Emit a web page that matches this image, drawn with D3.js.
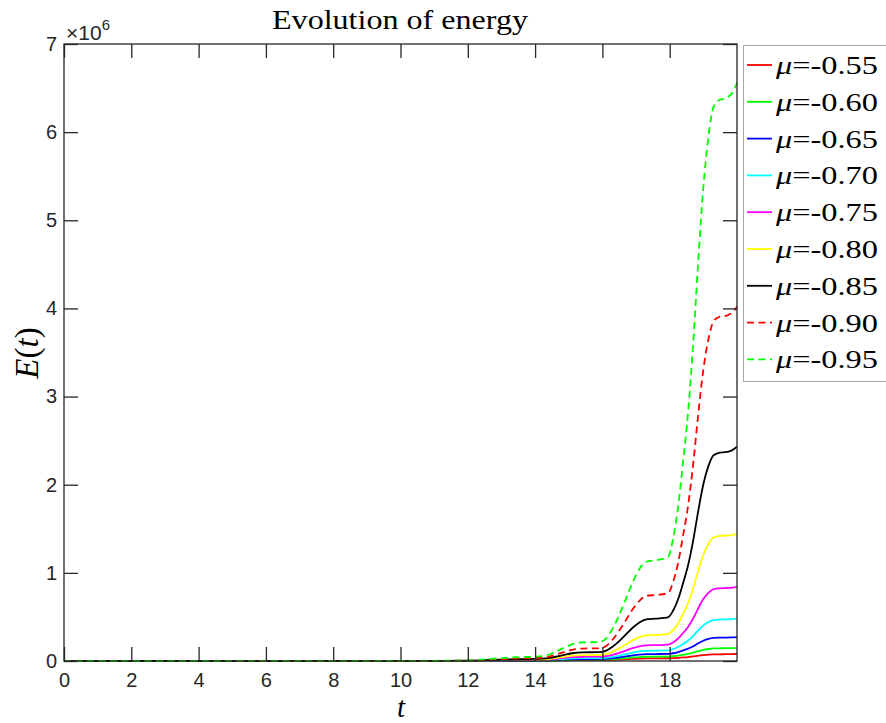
<!DOCTYPE html>
<html><head><meta charset="utf-8">
<script src="https://cdn.jsdelivr.net/npm/d3@7"></script>
<style>html,body{margin:0;padding:0;background:#fff;}svg{display:block;}</style>
</head><body>
<svg id="chart" width="886" height="723"></svg>
<script>
// ---- data (E in units of 1e6) ----
const tVals = [0, 10, 12, 12.5, 13, 13.5, 14, 14.4, 14.8, 15.1, 15.4, 15.9, 16.1, 16.3, 16.5, 16.7, 16.9, 17.1, 17.3, 17.6, 17.95, 18.1, 18.25, 18.4, 18.55, 18.7, 18.85, 19.0, 19.15, 19.3, 19.45, 19.7, 19.85, 20];
const mu055 = [0, 0, 0.0003, 0.0009, 0.0015, 0.002, 0.0023, 0.0033, 0.0065, 0.0088, 0.0098, 0.01, 0.011, 0.013, 0.017, 0.021, 0.025, 0.028, 0.030, 0.030, 0.031, 0.033, 0.036, 0.040, 0.045, 0.052, 0.060, 0.067, 0.072, 0.075, 0.076, 0.077, 0.078, 0.08];
const mu060 = [0, 0, 0.0005, 0.0014, 0.0024, 0.0032, 0.0037, 0.0053, 0.010, 0.014, 0.0157, 0.016, 0.017, 0.021, 0.027, 0.033, 0.040, 0.045, 0.048, 0.049, 0.05, 0.054, 0.060, 0.070, 0.080, 0.094, 0.111, 0.126, 0.136, 0.143, 0.144, 0.145, 0.146, 0.15];
const mu065 = [0, 0, 0.0007, 0.002, 0.0035, 0.0046, 0.0053, 0.0076, 0.015, 0.020, 0.0225, 0.023, 0.025, 0.032, 0.041, 0.053, 0.064, 0.073, 0.078, 0.079, 0.081, 0.088, 0.101, 0.12, 0.14, 0.167, 0.201, 0.23, 0.25, 0.262, 0.265, 0.266, 0.268, 0.272];
const mu070 = [0, 0.0001, 0.001, 0.003, 0.005, 0.007, 0.008, 0.011, 0.022, 0.030, 0.033, 0.034, 0.037, 0.047, 0.061, 0.078, 0.095, 0.108, 0.115, 0.117, 0.12, 0.134, 0.159, 0.194, 0.232, 0.285, 0.348, 0.404, 0.442, 0.465, 0.47, 0.472, 0.474, 0.48];
const mu075 = [0, 0.0001, 0.0015, 0.004, 0.007, 0.010, 0.011, 0.016, 0.032, 0.043, 0.048, 0.049, 0.054, 0.070, 0.092, 0.118, 0.145, 0.166, 0.177, 0.18, 0.185, 0.211, 0.255, 0.319, 0.389, 0.485, 0.600, 0.703, 0.773, 0.814, 0.824, 0.828, 0.83, 0.84];
const mu080 = [0, 0.0002, 0.002, 0.006, 0.010, 0.014, 0.016, 0.022, 0.044, 0.060, 0.067, 0.068, 0.077, 0.104, 0.143, 0.188, 0.234, 0.270, 0.290, 0.295, 0.304, 0.349, 0.426, 0.538, 0.660, 0.827, 1.027, 1.206, 1.328, 1.400, 1.417, 1.424, 1.429, 1.436];
const mu085 = [0, 0.0003, 0.003, 0.009, 0.015, 0.02, 0.023, 0.033, 0.065, 0.088, 0.098, 0.10, 0.115, 0.161, 0.225, 0.301, 0.377, 0.438, 0.472, 0.48, 0.495, 0.570, 0.700, 0.887, 1.092, 1.372, 1.707, 2.006, 2.211, 2.332, 2.36, 2.372, 2.39, 2.43];
const mu090 = [0, 0.0005, 0.004, 0.013, 0.022, 0.029, 0.033, 0.048, 0.094, 0.127, 0.141, 0.144, 0.168, 0.241, 0.344, 0.465, 0.586, 0.683, 0.738, 0.75, 0.77, 0.895, 1.114, 1.427, 1.772, 2.241, 2.805, 3.305, 3.650, 3.853, 3.90, 3.92, 3.95, 4.02];
const mu095 = [0, 0.001, 0.006, 0.019, 0.032, 0.043, 0.049, 0.071, 0.140, 0.189, 0.211, 0.215, 0.252, 0.364, 0.522, 0.708, 0.894, 1.043, 1.126, 1.145, 1.180, 1.387, 1.750, 2.268, 2.838, 3.615, 4.547, 5.376, 5.946, 6.282, 6.36, 6.39, 6.44, 6.56];
const seriesLabels = ["-0.55", "-0.60", "-0.65", "-0.70", "-0.75", "-0.80", "-0.85", "-0.90", "-0.95"];
const seriesValues = [mu055, mu060, mu065, mu070, mu075, mu080, mu085, mu090, mu095];
const seriesColors = ["#ff0000", "#00ff00", "#0000ff", "#00ffff", "#ff00ff", "#ffff00", "#000000", "#ff0000", "#00ff00"];
const seriesDashed = [false, false, false, false, false, false, false, true, true];
const xTicks = [0, 2, 4, 6, 8, 10, 12, 14, 16, 18];
const yTicks = [0, 1, 2, 3, 4, 5, 6, 7];

// ---- layout ----
const L = 64, R = 737, T = 44, B = 661;
const axisColor = "#262626";
const svg = d3.select("#chart");
svg.append("rect").attr("width", 886).attr("height", 723).attr("fill", "#fff");

const x = d3.scaleLinear().domain([0, 20]).range([L, R]);
const y = d3.scaleLinear().domain([0, 7]).range([B, T]);

// lines
const line = d3.line().x(d => x(d[0])).y(d => y(d[1])).curve(d3.curveMonotoneX);
const gLines = svg.append("g");
seriesValues.forEach((vals, i) => {
  gLines.append("path")
    .datum(tVals.map((t, k) => [t, vals[k]]))
    .attr("d", line)
    .attr("fill", "none")
    .attr("stroke", seriesColors[i])
    .attr("stroke-width", 1.8)
    .attr("stroke-dasharray", seriesDashed[i] ? "7,4.5" : null);
});

// axes (ticks inward, on all four sides)
const tk = 14;
const fontTick = "Liberation Sans, Arial, Helvetica, sans-serif";
const gx = svg.append("g").attr("transform", `translate(0,${B})`)
  .call(d3.axisBottom(x).tickValues(xTicks).tickSizeInner(-tk).tickSizeOuter(0).tickPadding(12).tickFormat(d3.format("d")));
const gxt = svg.append("g").attr("transform", `translate(0,${T})`)
  .call(d3.axisTop(x).tickValues(xTicks).tickSizeInner(-tk).tickSizeOuter(0).tickFormat(""));
const gy = svg.append("g").attr("transform", `translate(${L},0)`)
  .call(d3.axisLeft(y).tickValues(yTicks).tickSizeInner(-tk).tickSizeOuter(0).tickPadding(7).tickFormat(d3.format("d")));
const gyr = svg.append("g").attr("transform", `translate(${R},0)`)
  .call(d3.axisRight(y).tickValues(yTicks).tickSizeInner(-tk).tickSizeOuter(0).tickFormat(""));
[gx, gxt, gy, gyr].forEach(g => {
  g.select(".domain").remove();
  g.selectAll("line").attr("stroke", axisColor).attr("stroke-width", 1.3);
  g.selectAll("text").attr("fill", axisColor).style("font-family", fontTick).style("font-size", "20px");
});
svg.append("rect").attr("x", L).attr("y", T).attr("width", R - L).attr("height", B - T)
  .attr("fill", "none").attr("stroke", axisColor).attr("stroke-width", 1.3);

// exponent label
const ex = svg.append("text").attr("x", 66).attr("y", 40).attr("fill", axisColor)
  .style("font-family", fontTick).style("font-size", "21px");
ex.append("tspan").text("×10");
ex.append("tspan").attr("dy", -10).style("font-size", "15px").text("6");

// title
const serif = "Liberation Serif, 'DejaVu Serif', Times, serif";
svg.append("text").attr("x", 400).attr("y", 29).attr("text-anchor", "middle")
  .attr("textLength", 256).attr("lengthAdjust", "spacingAndGlyphs")
  .style("font-family", serif).style("font-size", "28px").attr("fill", "#000")
  .text("Evolution of energy");

// axis labels
svg.append("text").attr("x", 401).attr("y", 717).attr("text-anchor", "middle")
  .style("font-family", serif).style("font-size", "29px").style("font-style", "italic").text("t");
const yl = svg.append("text").attr("transform", `translate(38,353) rotate(-90)`).attr("text-anchor", "middle")
  .style("font-family", serif).style("font-size", "33px");
yl.append("tspan").style("font-style", "italic").text("E");
yl.append("tspan").text("(");
yl.append("tspan").style("font-style", "italic").text("t");
yl.append("tspan").text(")");

// legend
const lg = svg.append("g");
lg.append("rect").attr("x", 743.5).attr("y", 45.5).attr("width", 150).attr("height", 336)
  .attr("fill", "#fff").attr("stroke", "#a6a6a6").attr("stroke-width", 1);
seriesLabels.forEach((lab, i) => {
  const yy = 65 + i * 36.8;
  lg.append("line").attr("x1", 747).attr("x2", 772).attr("y1", yy).attr("y2", yy)
    .attr("stroke", seriesColors[i]).attr("stroke-width", 1.8)
    .attr("stroke-dasharray", seriesDashed[i] ? "7,4.5" : null);
  const tx = lg.append("text").attr("x", 776).attr("y", yy + 9)
    .attr("textLength", 102).attr("lengthAdjust", "spacingAndGlyphs")
    .style("font-family", serif).style("font-size", "26px").attr("fill", "#000");
  tx.append("tspan").style("font-style", "italic").text("μ");
  tx.append("tspan").text("=" + lab);
});
</script>
</body></html>
